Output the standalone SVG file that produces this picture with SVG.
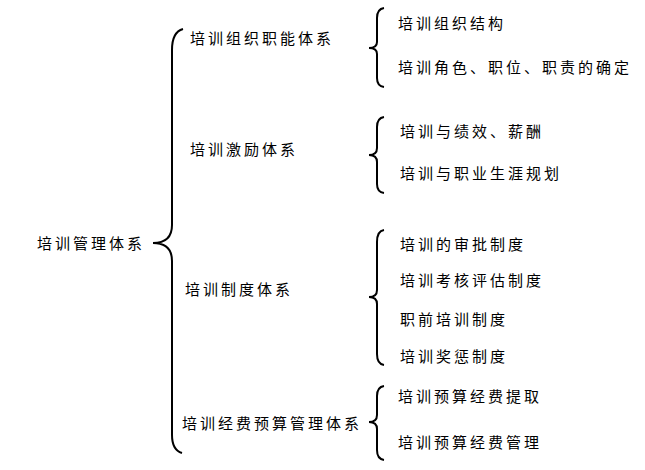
<svg xmlns="http://www.w3.org/2000/svg" width="645" height="470" viewBox="0 0 645 470">
<style>
text{font-family:"Noto Sans CJK SC",sans-serif;font-size:15px;letter-spacing:3px;fill:#000;dominant-baseline:central}
path{fill:none;stroke:#000;stroke-width:2}
</style>
<rect width="645" height="470" fill="#fff"/>
<g id="connectors">
<path d="M183,29 Q172,32 172,50 L172,225 Q172,243 153,243 Q172,243 172,261 L172,435 Q172,450 182,453"/>
<path d="M384,8 Q377,9 377,18 L377,42 Q377,48 369,48 Q377,48 377,54 L377,78 Q377,86 384,87"/>
<path d="M384,117 Q377,118 377,127 L377,148 Q377,155 369,155 Q377,155 377,162 L377,184 Q377,192 384,193"/>
<path d="M384,230 Q377,231 377,242 L377,290 Q377,297 369,297 Q377,297 377,304 L377,354 Q377,364 384,365"/>
<path d="M384,386 Q377,387 377,396 L377,415 Q377,422 369,422 Q377,422 377,429 L377,450 Q377,459 384,460"/>
</g>
<g id="root"><text x="37" y="242">培训管理体系</text></g>
<g id="n1"><text x="190" y="37">培训组织职能体系</text></g>
<g id="n2"><text x="190" y="148">培训激励体系</text></g>
<g id="n3"><text x="185" y="288">培训制度体系</text></g>
<g id="n4"><text x="182" y="422">培训经费预算管理体系</text></g>
<g id="l1"><text x="398" y="22">培训组织结构</text></g>
<g id="l2"><text x="398" y="66">培训角色、职位、职责的确定</text></g>
<g id="l3"><text x="400" y="130">培训与绩效、薪酬</text></g>
<g id="l4"><text x="400" y="172">培训与职业生涯规划</text></g>
<g id="l5"><text x="400" y="243">培训的审批制度</text></g>
<g id="l6"><text x="400" y="279">培训考核评估制度</text></g>
<g id="l7"><text x="400" y="318">职前培训制度</text></g>
<g id="l8"><text x="400" y="355">培训奖惩制度</text></g>
<g id="l9"><text x="398" y="395">培训预算经费提取</text></g>
<g id="l10"><text x="398" y="441">培训预算经费管理</text></g>
</svg>
